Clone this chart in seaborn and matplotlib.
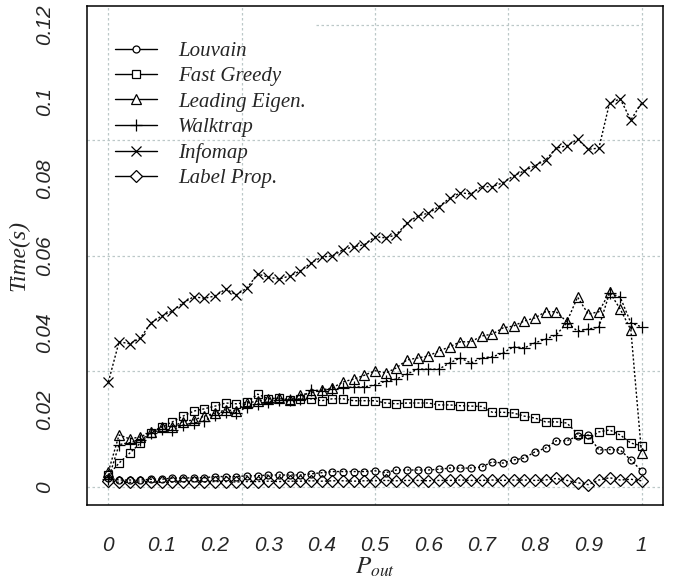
import matplotlib
matplotlib.use('Agg')
import matplotlib.pyplot as plt
from matplotlib import font_manager
from matplotlib.lines import Line2D
import seaborn as sns
import numpy as np

# P_out values (0 to 1 in steps of 0.02)
p_out = np.round(np.arange(0, 1.0001, 0.02), 2)

louvain = [0.0023, 0.0018, 0.0018, 0.0018, 0.0020, 0.0020, 0.0023, 0.0023, 0.0024, 0.0024,
           0.0027, 0.0027, 0.0027, 0.0029, 0.0029, 0.0031, 0.0031, 0.0031, 0.0031, 0.0034,
           0.0037, 0.0040, 0.0040, 0.0040, 0.0040, 0.0042, 0.0037, 0.0044, 0.0044, 0.0044,
           0.0044, 0.0046, 0.0049, 0.0049, 0.0049, 0.0052, 0.0065, 0.0062, 0.0070, 0.0075,
           0.0091, 0.0101, 0.0120, 0.0120, 0.0132, 0.0135, 0.0096, 0.0097, 0.0096, 0.0070,
           0.0042]
fast_greedy = [0.0031, 0.0062, 0.0088, 0.0114, 0.0140, 0.0156, 0.0169, 0.0184, 0.0197, 0.0203,
               0.0210, 0.0218, 0.0216, 0.0220, 0.0241, 0.0229, 0.0231, 0.0226, 0.0229, 0.0229,
               0.0224, 0.0229, 0.0229, 0.0224, 0.0224, 0.0224, 0.0218, 0.0216, 0.0218, 0.0218,
               0.0218, 0.0213, 0.0213, 0.0211, 0.0210, 0.0209, 0.0194, 0.0194, 0.0192, 0.0184,
               0.0179, 0.0169, 0.0169, 0.0166, 0.0138, 0.0125, 0.0143, 0.0148, 0.0135, 0.0114,
               0.0107]
leading_eigen = [0.0040, 0.0135, 0.0125, 0.0130, 0.0143, 0.0156, 0.0156, 0.0170, 0.0174, 0.0184,
                 0.0192, 0.0200, 0.0198, 0.0218, 0.0223, 0.0229, 0.0230, 0.0226, 0.0239, 0.0244,
                 0.0252, 0.0257, 0.0273, 0.0280, 0.0290, 0.0302, 0.0296, 0.0309, 0.0330, 0.0335,
                 0.0340, 0.0353, 0.0364, 0.0377, 0.0377, 0.0392, 0.0397, 0.0413, 0.0418, 0.0431,
                 0.0439, 0.0455, 0.0455, 0.0429, 0.0493, 0.0449, 0.0455, 0.0506, 0.0462, 0.0408,
                 0.0088]
walktrap = [0.0020, 0.0110, 0.0115, 0.0122, 0.0140, 0.0150, 0.0148, 0.0161, 0.0166, 0.0172,
            0.0187, 0.0195, 0.0193, 0.0208, 0.0216, 0.0221, 0.0226, 0.0226, 0.0228, 0.0252,
            0.0250, 0.0254, 0.0257, 0.0260, 0.0260, 0.0265, 0.0275, 0.0280, 0.0293, 0.0306,
            0.0306, 0.0306, 0.0322, 0.0335, 0.0322, 0.0335, 0.0338, 0.0348, 0.0364, 0.0361,
            0.0374, 0.0384, 0.0395, 0.0426, 0.0405, 0.0410, 0.0415, 0.0504, 0.0493, 0.0426,
            0.0416]
infomap = [0.0273, 0.0377, 0.0372, 0.0387, 0.0426, 0.0444, 0.0457, 0.0478, 0.0494, 0.0490,
           0.0496, 0.0514, 0.0499, 0.0517, 0.0553, 0.0545, 0.0540, 0.0548, 0.0561, 0.0582,
           0.0597, 0.0600, 0.0616, 0.0624, 0.0629, 0.0650, 0.0647, 0.0655, 0.0686, 0.0704,
           0.0711, 0.0728, 0.0750, 0.0764, 0.0761, 0.0780, 0.0780, 0.0790, 0.0808, 0.0821,
           0.0834, 0.0849, 0.0880, 0.0886, 0.0903, 0.0877, 0.0880, 0.0997, 0.1008, 0.0953,
           0.0997]
label_prop = [0.0015, 0.0012, 0.0012, 0.0013, 0.0013, 0.0012, 0.0013, 0.0013, 0.0014, 0.0013,
              0.0014, 0.0014, 0.0013, 0.0014, 0.0014, 0.0015, 0.0014, 0.0015, 0.0015, 0.0016,
              0.0015, 0.0016, 0.0016, 0.0015, 0.0016, 0.0016, 0.0017, 0.0016, 0.0017, 0.0017,
              0.0016, 0.0017, 0.0017, 0.0018, 0.0017, 0.0017, 0.0018, 0.0017, 0.0018, 0.0018,
              0.0017, 0.0018, 0.0022, 0.0017, 0.0011, 0.0006, 0.0018, 0.0024, 0.0018, 0.0020,
              0.0016]

names = ['Louvain', 'Fast Greedy', 'Leading Eigen.', 'Walktrap', 'Infomap', 'Label Prop.']
series = [louvain, fast_greedy, leading_eigen, walktrap, infomap, label_prop]
markers = ['o', 's', '^', '+', 'x', 'D']
msizes = [5, 6, 7, 9, 7, 6]

x_ticks = np.round(np.arange(0, 1.0001, 0.05), 2)
x_labels = ['0' if v == 0 else ('1' if v == 1 else (f'{v:.1f}' if round(v * 10) == v * 10 else ''))
            for v in x_ticks]
y_ticks = [0, 0.02, 0.04, 0.06, 0.08, 0.1, 0.12]
y_labels = ['0', '0.02', '0.04', '0.06', '0.08', '0.1', '0.12']

sns.set_style('white')
installed = {f.name for f in font_manager.fontManager.ttflist}
tick_font = 'Liberation Sans Narrow' if 'Liberation Sans Narrow' in installed else 'Liberation Sans'
serif_font = 'Liberation Serif'
plt.rcParams['mathtext.fontset'] = 'stix'

fig = plt.figure(figsize=(6.75, 5.85), dpi=100)
ax = fig.add_axes([0.129, 0.136, 0.853, 0.853])

grid_kw = dict(color='#bcc8c8', lw=0.9, ls=(0, (2, 2)), zorder=0)
for gx in [0, 0.25, 0.5, 0.75, 1.0]:
    ax.axvline(gx, **grid_kw)
for gy in [0, 0.03, 0.06, 0.09]:
    ax.axhline(gy, **grid_kw)
ax.plot([0.39, 1.0], [0.12, 0.12], **grid_kw)

for name, vals, m, ms in zip(names, series, markers, msizes):
    sns.lineplot(x=p_out, y=vals, ax=ax, color='black', marker=m, markersize=ms,
                 markerfacecolor='none', markeredgecolor='black', markeredgewidth=0.9,
                 linestyle=(0, (1.5, 1.5)), linewidth=1.0, legend=False, zorder=3)

ax.set_xlim(-0.04, 1.04)
ax.set_ylim(-0.0048, 0.1248)
ax.set_xticks(x_ticks)
ax.set_xticklabels(x_labels, fontstyle='italic', family=tick_font, fontsize=15)
ax.set_yticks(y_ticks)
ax.set_yticklabels(y_labels, fontstyle='italic', family=tick_font, fontsize=15,
                   rotation=90, va='center')
ax.tick_params(axis='both', direction='out', length=10, width=1, color='black')
ax.tick_params(axis='x', pad=12)
ax.tick_params(axis='y', pad=14)
for s in ax.spines.values():
    s.set_color('black')
    s.set_linewidth(1.1)

ax.set_ylabel('Time(s)', family=serif_font, fontstyle='italic', fontsize=17, labelpad=4)
ax.set_xlabel('$P_{out}$', fontsize=18, labelpad=0)

handles = [Line2D([0], [0], color='black', lw=1.0, marker=m, markersize=ms,
                  markerfacecolor='white', markeredgecolor='black', markeredgewidth=0.9)
           for m, ms in zip(markers, msizes)]
leg = ax.legend(handles, names, loc='upper left', bbox_to_anchor=(0.049, 0.93),
                frameon=False, borderpad=0, borderaxespad=0, handlelength=2.0,
                handletextpad=1.0, labelspacing=0.28,
                prop={'family': serif_font, 'style': 'italic', 'size': 15})

fig.savefig('out.png', dpi=100)
